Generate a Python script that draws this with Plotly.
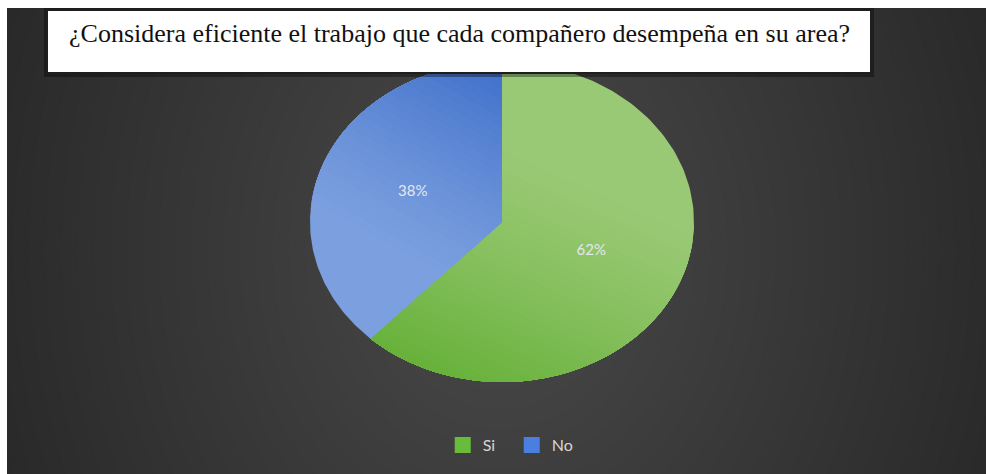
import numpy as np
import plotly.graph_objects as go

# Survey answers
categories = ["Si", "No"]
shares = [62, 38]
label_text = ["62%", "38%"]
title_text = "¿Considera eficiente el trabajo que cada compañero desempeña en su area?"

W, H = 986, 474

# pie geometry (pixel space, y axis reversed)
CX, CY, RX, RY = 502, 222, 192, 160

# per-slice gradients: (light, dark, direction toward dark end)
slice_style = {
    "Si": dict(light=(0x9a, 0xc9, 0x75), dark=(0x68, 0xb2, 0x3b), direction=(-0.45, 1.0), legend="#67bd3a"),
    "No": dict(light=(0x7c, 0xa0, 0xdf), dark=(0x3f, 0x6f, 0xca), direction=(0.55, -1.0), legend="#4a7fe0"),
}


def wedge(t0, t1, n=160):
    """Polygon of an elliptical wedge between fractions t0..t1 (clockwise from 12 o'clock)."""
    t = np.linspace(t0, t1, n)
    a = 2 * np.pi * t
    xs = CX + RX * np.sin(a)
    ys = CY - RY * np.cos(a)
    return [(CX, CY)] + list(zip(xs, ys))


def clip_halfplane(poly, d, c):
    """Keep the part of poly where dot(p, d) >= c."""
    out = []
    m = len(poly)
    for i in range(m):
        p, q = poly[i], poly[(i + 1) % m]
        fp = p[0] * d[0] + p[1] * d[1] - c
        fq = q[0] * d[0] + q[1] * d[1] - c
        if fp >= 0:
            out.append(p)
        if (fp >= 0) != (fq >= 0):
            s = fp / (fp - fq)
            out.append((p[0] + s * (q[0] - p[0]), p[1] + s * (q[1] - p[1])))
    return out


def mix(c0, c1, s):
    return "rgb(%d,%d,%d)" % tuple(round(a + (b - a) * s) for a, b in zip(c0, c1))


fig = go.Figure()

total = sum(shares)
start = 0.0
label_pos = []
for cat, val in zip(categories, shares):
    frac = val / total
    poly = wedge(start, start + frac)
    st = slice_style[cat]
    d = np.array(st["direction"], float)
    d = d / np.linalg.norm(d)
    proj = [p[0] * d[0] + p[1] * d[1] for p in poly]
    lo, hi = min(proj), max(proj)
    steps = 28
    for k in range(steps):
        if k == 0:
            part = poly
        else:
            c = lo + (hi - lo) * (0.25 + 0.75 * k / steps)
            part = clip_halfplane(poly, d, c)
        if len(part) < 3:
            continue
        s = (k / (steps - 1)) ** 1.3
        px = [p[0] for p in part] + [part[0][0]]
        py = [p[1] for p in part] + [part[0][1]]
        fig.add_trace(go.Scatter(
            x=px, y=py, mode="lines", fill="toself",
            fillcolor=mix(st["light"], st["dark"], s),
            line=dict(width=0), hoverinfo="skip", showlegend=False,
        ))
    mid = 2 * np.pi * (start + frac / 2)
    label_pos.append((CX + 0.5 * RX * np.sin(mid), CY - 0.5 * RY * np.cos(mid)))
    start += frac

# percentage labels
fig.add_trace(go.Scatter(
    x=[p[0] for p in label_pos], y=[p[1] for p in label_pos],
    mode="text", text=label_text,
    textfont=dict(family="Lato, Open Sans, sans-serif", size=15, color="#e4e8ee"),
    hoverinfo="skip", showlegend=False,
))

# legend entries
for cat in categories:
    fig.add_trace(go.Scatter(
        x=[None], y=[None], mode="markers", name=cat,
        marker=dict(symbol="square", size=16, color=slice_style[cat]["legend"]),
    ))

# background: dark panel with soft radial light behind the pie
shapes = []
shapes.append(dict(type="rect", xref="x", yref="y", x0=0, x1=W, y0=0, y1=H,
                   fillcolor="#292929", line=dict(width=0), layer="below"))
g_outer, g_inner = 41, 73
n_rings = g_inner - g_outer
for k in range(n_rings):
    s = 1.0 - k / n_rings
    g = g_outer + k + 1
    shapes.append(dict(type="circle", xref="x", yref="y",
                       x0=500 - 520 * s, x1=500 + 520 * s,
                       y0=250 - 640 * s, y1=250 + 640 * s,
                       fillcolor="rgb(%d,%d,%d)" % (g, g, g),
                       line=dict(width=0), layer="below"))
# white page margins on the left and top
shapes.append(dict(type="rect", xref="x", yref="y", x0=0, x1=7, y0=0, y1=H,
                   fillcolor="white", line=dict(width=0), layer="below"))
shapes.append(dict(type="rect", xref="x", yref="y", x0=0, x1=W, y0=0, y1=8,
                   fillcolor="white", line=dict(width=0), layer="below"))
# title box with a faint shadow
shapes.append(dict(type="rect", xref="x", yref="y", x0=44, x1=874, y0=8, y1=77,
                   fillcolor="rgba(0,0,0,0.35)", line=dict(width=0), layer="above"))
shapes.append(dict(type="rect", xref="x", yref="y", x0=47, x1=871, y0=10, y1=73,
                   fillcolor="white", line=dict(color="#1e1e1e", width=2), layer="above"))

fig.update_layout(
    width=W, height=H,
    margin=dict(l=0, r=0, t=0, b=0),
    paper_bgcolor="white", plot_bgcolor="white",
    xaxis=dict(range=[0, W], visible=False, fixedrange=True),
    yaxis=dict(range=[H, 0], visible=False, fixedrange=True),
    shapes=shapes,
    annotations=[dict(
        x=459, y=33, xref="x", yref="y", text=title_text, showarrow=False,
        font=dict(family="Liberation Serif, Times New Roman, serif", size=26, color="#111111"),
    )],
    legend=dict(
        orientation="h", x=0.519, xanchor="center", y=1 - 445 / H, yanchor="middle",
        entrywidth=24, entrywidthmode="pixels",
        font=dict(family="Lato, Open Sans, sans-serif", size=16, color="#d6d6d6"),
        bgcolor="rgba(0,0,0,0)", itemclick=False, itemdoubleclick=False,
    ),
)

fig.write_html("out.html")
